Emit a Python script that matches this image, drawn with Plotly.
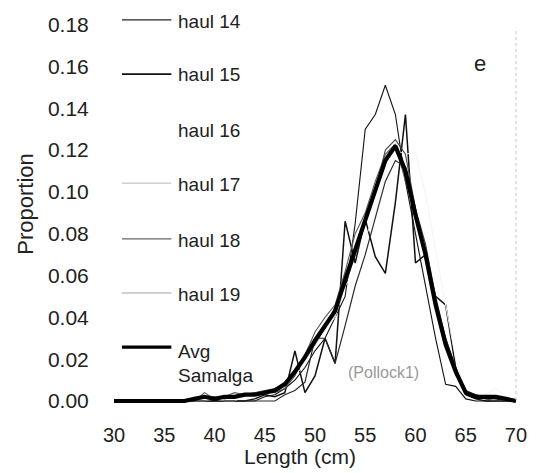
import plotly.graph_objects as go

lengths = list(range(30, 71))

def series(d):
    return [d.get(L, 0.0) for L in lengths]

haul14 = series({45: 0.002, 46: 0.003, 47: 0.006, 48: 0.010, 49: 0.016, 50: 0.024, 51: 0.030,
                 52: 0.040, 53: 0.050, 54: 0.085, 55: 0.130, 56: 0.137, 57: 0.151, 58: 0.137,
                 59: 0.105, 60: 0.080, 61: 0.055, 62: 0.030, 63: 0.008, 64: 0.007, 65: 0.001})
haul15 = series({44: 0.001, 45: 0.003, 46: 0.002, 47: 0.004, 48: 0.024, 49: 0.004, 50: 0.012,
                 51: 0.030, 52: 0.018, 53: 0.086, 54: 0.066, 55: 0.087, 56: 0.069, 57: 0.061,
                 58: 0.095, 59: 0.137, 60: 0.066, 61: 0.070, 62: 0.050, 63: 0.046, 64: 0.016,
                 65: 0.003, 66: 0.001})
haul16 = series({40: 0.001, 43: 0.002, 44: 0.003, 45: 0.004, 46: 0.006, 47: 0.008, 48: 0.012,
                 49: 0.018, 50: 0.026, 51: 0.034, 52: 0.040, 53: 0.055, 54: 0.062, 55: 0.078,
                 56: 0.090, 57: 0.110, 58: 0.120, 59: 0.118, 60: 0.119, 61: 0.099, 62: 0.072,
                 63: 0.045, 64: 0.020, 65: 0.005, 66: 0.002, 67: 0.003, 68: 0.006, 69: 0.002})
haul17 = series({39: 0.004, 40: 0.001, 41: 0.002, 42: 0.004, 43: 0.003, 44: 0.003, 45: 0.004,
                 46: 0.004, 47: 0.006, 48: 0.012, 49: 0.022, 50: 0.033, 51: 0.040, 52: 0.046,
                 53: 0.062, 54: 0.080, 55: 0.090, 56: 0.105, 57: 0.118, 58: 0.123, 59: 0.105,
                 60: 0.090, 61: 0.072, 62: 0.048, 63: 0.028, 64: 0.013, 65: 0.004, 66: 0.002,
                 67: 0.001, 68: 0.001})
haul18 = series({47: 0.003, 48: 0.005, 49: 0.009, 50: 0.030, 51: 0.030, 52: 0.018, 53: 0.036,
                 54: 0.055, 55: 0.070, 56: 0.088, 57: 0.105, 58: 0.115, 59: 0.112, 60: 0.092,
                 61: 0.068, 62: 0.048, 63: 0.030, 64: 0.016, 65: 0.004, 66: 0.003, 67: 0.002,
                 68: 0.001})
haul19 = series({38: 0.001, 39: 0.002, 40: 0.002, 41: 0.001, 42: 0.002, 43: 0.003, 44: 0.004,
                 45: 0.005, 46: 0.006, 47: 0.009, 48: 0.015, 49: 0.020, 50: 0.027, 51: 0.035,
                 52: 0.045, 53: 0.055, 54: 0.070, 55: 0.085, 56: 0.100, 57: 0.120, 58: 0.125,
                 59: 0.118, 60: 0.092, 61: 0.075, 62: 0.050, 63: 0.030, 64: 0.015, 65: 0.005,
                 66: 0.003, 67: 0.001})
avg = series({38: 0.001, 39: 0.002, 40: 0.001, 41: 0.002, 42: 0.002, 43: 0.003, 44: 0.003,
              45: 0.004, 46: 0.005, 47: 0.008, 48: 0.014, 49: 0.021, 50: 0.029, 51: 0.036,
              52: 0.043, 53: 0.058, 54: 0.072, 55: 0.086, 56: 0.100, 57: 0.115, 58: 0.122,
              59: 0.110, 60: 0.089, 61: 0.070, 62: 0.046, 63: 0.027, 64: 0.014, 65: 0.004,
              66: 0.002, 67: 0.002, 68: 0.002, 69: 0.001})

series_names = ["haul 14", "haul 15", "haul 16", "haul 17", "haul 18", "haul 19", "Avg<br>Samalga"]
series_values = [haul14, haul15, haul16, haul17, haul18, haul19, avg]
series_colors = ["#111111", "#111111", "#f4f4f4", "#5a5a5a", "#2a2a2a", "#444444", "#000000"]
series_widths = [1.1, 1.5, 1.0, 1.1, 1.2, 1.1, 4.2]
legend_colors = ["#222222", "#111111", "#ffffff", "#b0b0b0", "#666666", "#999999", "#000000"]
legend_widths = [1.2, 1.8, 1.0, 0.9, 1.1, 0.9, 3.2]

x_ticks = [30, 35, 40, 45, 50, 55, 60, 65, 70]
y_ticks = [0.00, 0.02, 0.04, 0.06, 0.08, 0.10, 0.12, 0.14, 0.16, 0.18]

FONT = "Liberation Sans, Arial, sans-serif"
TXT = "#222222"

fig = go.Figure()
for name, vals, col, w in zip(series_names, series_values, series_colors, series_widths):
    fig.add_trace(go.Scatter(x=lengths, y=vals, mode="lines", name=name,
                             line=dict(color=col, width=w), showlegend=False))

# hand-drawn legend, paper coordinates
legend_line_y = [0.975, 0.839, 0.698, 0.565, 0.425, 0.289, 0.153]
legend_text_y = [0.972, 0.838, 0.698, 0.561, 0.421, 0.285]
for name, col, w, ly in zip(series_names, legend_colors, legend_widths, legend_line_y):
    fig.add_shape(type="line", xref="paper", yref="paper", x0=0.0196, x1=0.142, y0=ly, y1=ly,
                  line=dict(color=col, width=w))
for name, ty in zip(series_names[:6], legend_text_y):
    fig.add_annotation(xref="paper", yref="paper", x=0.154, y=ty, text=name,
                       showarrow=False, xanchor="left", yanchor="middle",
                       font=dict(family=FONT, size=19, color=TXT))
fig.add_annotation(xref="paper", yref="paper", x=0.154, y=0.143, text="Avg",
                   showarrow=False, xanchor="left", yanchor="middle",
                   font=dict(family=FONT, size=19, color=TXT))
fig.add_annotation(xref="paper", yref="paper", x=0.154, y=0.081, text="Samalga",
                   showarrow=False, xanchor="left", yanchor="middle",
                   font=dict(family=FONT, size=19, color=TXT))

fig.add_annotation(xref="paper", yref="paper", x=0.905, y=0.865, text="e", showarrow=False,
                   xanchor="center", yanchor="middle",
                   font=dict(family=FONT, size=22, color=TXT))
fig.add_annotation(xref="paper", yref="paper", x=0.668, y=0.09, text="(Pollock1)", showarrow=False,
                   xanchor="center", yanchor="middle",
                   font=dict(family=FONT, size=16, color="#999999"))
fig.add_shape(type="line", xref="paper", yref="paper", x0=0.995, x1=0.995, y0=0.02, y1=0.955,
              line=dict(color="#c4c4c4", width=1, dash="dot"))

fig.add_annotation(xref="paper", yref="paper", x=0.46, y=-0.121, text="Length (cm)",
                   showarrow=False, xanchor="center", yanchor="middle",
                   font=dict(family=FONT, size=21, color=TXT))
fig.add_annotation(xref="paper", yref="paper", x=-0.218, y=0.513, text="Proportion",
                   showarrow=False, textangle=-90, xanchor="center", yanchor="middle",
                   font=dict(family=FONT, size=22, color=TXT))

fig.update_layout(
    width=537, height=473,
    margin=dict(l=114, r=14, t=10, b=65),
    paper_bgcolor="white", plot_bgcolor="white",
    font=dict(family=FONT, color=TXT),
)
fig.update_xaxes(range=[30, 70.2], tickvals=x_ticks, showgrid=False, zeroline=False,
                 showline=False, ticks="outside", ticklen=9, tickcolor="rgba(0,0,0,0)",
                 tickfont=dict(size=20, color=TXT))
fig.update_yaxes(range=[-0.00335, 0.187], tickvals=y_ticks, tickformat=".2f", showgrid=False,
                 zeroline=False, showline=False, ticks="outside", ticklen=20,
                 tickcolor="rgba(0,0,0,0)", tickfont=dict(size=21, color=TXT))

fig.write_html("out.html")
